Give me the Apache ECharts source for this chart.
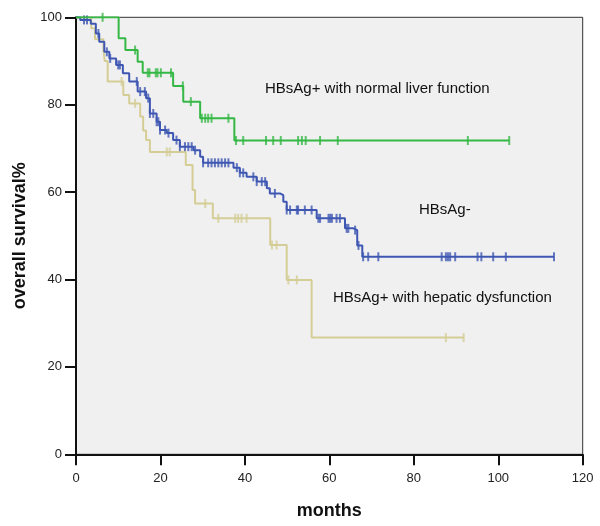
<!DOCTYPE html>
<html><head><meta charset="utf-8">
<script src="https://cdn.jsdelivr.net/npm/echarts@6/dist/echarts.min.js"></script>
<style>html,body{margin:0;padding:0;background:#fff}#c{width:600px;height:526px}</style>
</head><body><div id="c"></div>
<script>
const xTicks = [0, 20, 40, 60, 80, 100, 120];
const yTicks = [0, 20, 40, 60, 80, 100];
const groupNames = ['HBsAg+ with normal liver function', 'HBsAg-', 'HBsAg+ with hepatic dysfunction'];

// [month, survival% after the drop]
const normalDrops = [[10.1,95.2],[11.7,92.5],[14.6,89.8],[15.8,87.3],[23.0,84.3],[25.4,80.7],[29.4,76.9],[37.5,71.8]];
const normalCensor = [6.3,14.0,17.0,17.4,18.9,19.3,20.1,22.5,25.3,27.2,29.8,30.6,31.3,32.1,36.1,37.9,39.6,45.0,46.7,48.5,52.6,53.5,54.4,57.8,62.0,92.8,102.6];
const normalEnd = 102.6;

const negDrops = [[1.0,99.4],[3.5,98.5],[4.7,96.3],[5.5,94.4],[6.7,92.1],[7.9,90.6],[9.5,89.1],[11.1,87.2],[12.6,85.3],[14.6,83.0],[16.6,81.5],[17.5,78.0],[19.1,76.1],[19.9,74.2],[21.5,73.5],[23.0,71.9],[24.6,70.4],[27.8,69.6],[29.4,68.1],[30.1,66.7],[37.3,65.6],[38.8,64.4],[40.4,63.5],[42.8,62.4],[45.2,60.9],[45.9,59.7],[48.3,59.3],[49.1,57.8],[49.9,55.9],[57.0,54.0],[63.7,51.7],[65.7,51.3],[66.6,47.8],[67.8,45.2]];
const negCensor = [1.9,2.6,5.3,7.3,8.1,10.0,10.4,14.4,15.2,16.3,17.1,17.5,18.3,19.1,19.5,19.9,21.1,21.9,23.8,24.6,25.8,26.6,27.4,28.2,30.1,31.3,32.1,32.9,33.7,34.5,35.3,36.1,38.1,38.8,39.6,42.0,42.8,44.0,44.8,47.1,49.9,50.7,52.3,52.6,54.2,55.8,57.4,57.8,59.8,60.2,60.6,61.7,62.5,64.1,64.5,66.1,66.9,68.0,69.2,71.6,86.6,87.6,88.1,88.6,89.8,95.1,96.0,98.8,101.8,113.2];
const negEnd = 113.2;

const hepDrops = [[3.6,97.5],[4.5,95.0],[6.5,92.5],[6.8,90.0],[7.5,85.3],[11.2,82.2],[12.6,80.3],[15.2,77.3],[15.9,74.1],[16.6,71.9],[17.5,69.2],[26.0,66.2],[27.6,60.5],[28.2,57.4],[32.4,54.0],[46.0,47.9],[49.9,39.9],[55.8,26.7]];
const hepCensor = [10.8,14.0,21.5,22.2,30.6,33.7,37.7,38.4,39.2,40.4,46.4,47.5,50.3,52.3,87.6,91.8];
const hepEnd = 91.8;

const colors = ['#35b845', '#3f57b3', '#d5cd96'];

function stepData(drops, end) {
  const d = [[0, 100]];
  drops.forEach(p => d.push([p[0], p[1]]));
  d.push([end, drops[drops.length - 1][1]]);
  return d;
}
function levelAt(drops, t) {
  let v = 100;
  for (const [m, p] of drops) { if (m <= t) v = p; }
  return v;
}
function censorData(drops, times) { return times.map(t => [t, levelAt(drops, t)]); }

const groups = [
  [normalDrops, normalCensor, normalEnd],
  [negDrops, negCensor, negEnd],
  [hepDrops, hepCensor, hepEnd]
];
const series = [];
groups.forEach((g, i) => {
  series.push({
    name: groupNames[i], type: 'line', step: 'end', data: stepData(g[0], g[2]),
    showSymbol: false, lineStyle: { color: colors[i], width: 2 }, z: 3 - i + 2, animation: false
  });
  series.push({
    name: groupNames[i] + ' censored', type: 'scatter', data: censorData(g[0], g[1]),
    symbol: 'rect', symbolSize: [2, 9], itemStyle: { color: colors[i] }, z: 3 - i + 2, animation: false
  });
});

const chart = echarts.init(document.getElementById('c'));
const lblFont = 'Liberation Sans, Arial, sans-serif';
chart.setOption({
  animation: false,
  grid: { left: 76, right: 17.3, top: 17.3, bottom: 71.7, show: true, backgroundColor: '#f0f0f0', borderColor: '#333', borderWidth: 1 },
  xAxis: {
    type: 'value', min: xTicks[0], max: xTicks[xTicks.length - 1], interval: xTicks[1] - xTicks[0],
    name: 'months', nameLocation: 'middle', nameGap: 48,
    nameTextStyle: { fontFamily: lblFont, fontSize: 18, fontWeight: 'bold', color: '#111' },
    axisLine: { lineStyle: { color: '#111', width: 2 } },
    axisTick: { length: 11, lineStyle: { color: '#111', width: 2 } },
    axisLabel: { margin: 18, fontFamily: lblFont, fontSize: 13, color: '#222' },
    splitLine: { show: false }
  },
  yAxis: {
    type: 'value', min: yTicks[0], max: yTicks[yTicks.length - 1], interval: yTicks[1] - yTicks[0],
    name: 'overall survival%', nameLocation: 'middle', nameGap: 43,
    nameTextStyle: { fontFamily: lblFont, fontSize: 18, fontWeight: 'bold', color: '#111' },
    axisLine: { lineStyle: { color: '#111', width: 2 } },
    axisTick: { length: 11, lineStyle: { color: '#111', width: 2 } },
    axisLabel: { margin: 14, fontFamily: lblFont, fontSize: 13, color: '#222' },
    splitLine: { show: false }
  },
  graphic: [
    { type: 'text', left: 265, top: 81, style: { text: groupNames[0], font: '15px ' + lblFont, fill: '#111' } },
    { type: 'text', left: 419, top: 202, style: { text: groupNames[1], font: '15px ' + lblFont, fill: '#111' } },
    { type: 'text', left: 333, top: 290, style: { text: groupNames[2], font: '15px ' + lblFont, fill: '#111' } }
  ],
  series: series
});
</script>
</body></html>
